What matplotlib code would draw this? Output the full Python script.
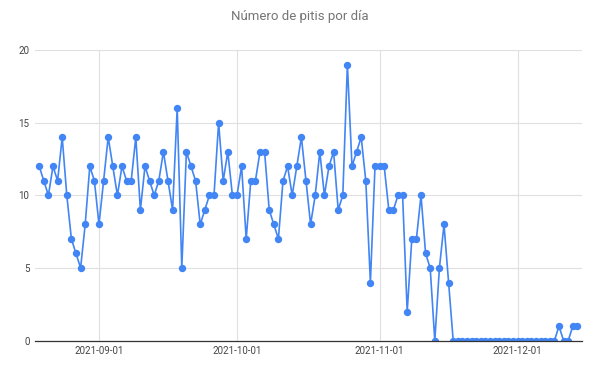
import datetime as dt
import matplotlib
matplotlib.use("Agg")
import matplotlib.pyplot as plt
import matplotlib.dates as mdates

start_date = dt.date(2021, 8, 19)

aug = [12, 11, 10, 12, 11, 14, 10, 7, 6, 5, 8, 12, 11]
sep = [8, 11, 14, 12, 10, 12, 11, 11, 14, 9, 12, 11, 10, 11, 13,
       11, 9, 16, 5, 13, 12, 11, 8, 9, 10, 10, 15, 11, 13, 10]
oct_ = [10, 12, 7, 11, 11, 13, 13, 9, 8, 7, 11, 12, 10, 12, 14, 11,
        8, 10, 13, 10, 12, 13, 9, 10, 19, 12, 13, 14, 11, 4, 12]
nov = [12, 12, 9, 9, 10, 10, 2, 7, 7, 10, 6, 5, 0, 5, 8, 4,
       0, 0, 0, 0, 0, 0, 0, 0, 0, 0, 0, 0, 0, 0]
dec = [0, 0, 0, 0, 0, 0, 0, 0, 0, 1, 0, 0, 1, 1]

counts = aug + sep + oct_ + nov + dec
dates = [start_date + dt.timedelta(days=i) for i in range(len(counts))]

month_ticks = [dt.date(2021, 9, 1), dt.date(2021, 10, 1),
               dt.date(2021, 11, 1), dt.date(2021, 12, 1)]
y_ticks = [0, 5, 10, 15, 20]

plt.rcParams["font.family"] = ["Roboto", "DejaVu Sans"]

fig = plt.figure(figsize=(6, 3.72), dpi=100)
ax = fig.add_axes([0.0583, 0.0841, 0.9117, 0.7815])

ax.plot(dates, counts, color="#4285F4", linewidth=1.2, marker="o",
        markersize=4.3, zorder=3, clip_on=True)

ax.set_xlim(dt.datetime(2021, 8, 18, 2), dt.datetime(2021, 12, 15))
ax.set_ylim(0, 20)
ax.set_yticks(y_ticks)
ax.set_xticks(month_ticks)
ax.xaxis.set_major_formatter(mdates.DateFormatter("%Y-%m-%d"))

ax.grid(True, color="#e0e0e0", linewidth=0.8)
ax.set_axisbelow(True)
for s in ["top", "right", "left"]:
    ax.spines[s].set_visible(False)
ax.spines["bottom"].set_color("#333333")
ax.spines["bottom"].set_linewidth(0.9)
ax.spines["bottom"].set_zorder(4)

ax.tick_params(axis="both", length=0, labelsize=7, labelcolor="#444444")
ax.tick_params(axis="y", pad=4)
ax.tick_params(axis="x", pad=4)

fig.text(0.5, 0.955, "Número de pitis por día", ha="center", va="center",
         fontsize=9.5, color="#757575")

fig.savefig("out.png", dpi=100)
